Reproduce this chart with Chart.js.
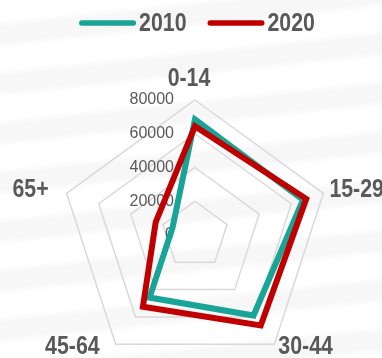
<!DOCTYPE html>
<html>
<head>
<meta charset="utf-8">
<script src="https://cdn.jsdelivr.net/npm/chart.js@4.4.1/dist/chart.umd.min.js"></script>
<style>
  html, body { margin: 0; padding: 0; }
  body {
    width: 382px; height: 358px; overflow: hidden;
    background: #fbfbfb repeating-linear-gradient(174deg, #ffffff 0px, #ffffff 20px, #f7f7f7 27px, #f7f7f7 42px, #ffffff 49px);
  }
  #wrap { position: relative; width: 382px; height: 358px; }
</style>
</head>
<body>
<div id="wrap"><canvas id="chart" width="382" height="358"></canvas></div>
<script>
// Population by age group
const categories = ['0-14', '15-29', '30-44', '45-64', '65+'];
const seriesNames = ['2010', '2020'];
const values2010 = [68500, 67300, 59000, 45800, 14000];
const values2020 = [64500, 69300, 66300, 52500, 24500];
const tickValues = [0, 20000, 40000, 60000, 80000];

const TEXT_COLOR = '#595959';
const BOLD_FONT = 'bold 26px "Liberation Sans", Arial, sans-serif';
const TICK_FONT = '16px "Liberation Sans", Arial, sans-serif';
const CONDENSE = 0.82;           // horizontal squeeze for the bold headings
const seriesColors = ['#18a497', '#c00000'];

// Draw condensed text anchored at (x, y)
function condensedText(ctx, text, x, y, align, baseline) {
  ctx.save();
  ctx.translate(x, y);
  ctx.scale(CONDENSE, 1);
  ctx.textAlign = align;
  ctx.textBaseline = baseline;
  ctx.fillText(text, 0, 0);
  ctx.restore();
}

const radarText = {
  id: 'radarText',
  // tick values to the left of the vertical axis, underneath the series lines
  beforeDatasetsDraw(chart) {
    const s = chart.scales.r;
    const ctx = chart.ctx;
    ctx.save();
    ctx.font = TICK_FONT;
    ctx.fillStyle = TEXT_COLOR;
    ctx.textAlign = 'right';
    ctx.textBaseline = 'middle';
    tickValues.forEach(v => {
      ctx.fillText(String(v), s.xCenter - 21, s.yCenter - s.getDistanceFromCenterForValue(v));
    });
    ctx.restore();
  },
  afterDatasetsDraw(chart) {
    const s = chart.scales.r;
    const ctx = chart.ctx;
    ctx.save();
    ctx.font = BOLD_FONT;
    ctx.fillStyle = TEXT_COLOR;

    // category names beside the outer vertices
    const shift = -6;
    chart.data.labels.forEach((label, i) => {
      const p = s.getPointPosition(i, s.drawingArea);
      const a = s.getIndexAngle(i);
      const sx = Math.sin(a), up = Math.cos(a);
      if (Math.abs(sx) < 0.1) {
        condensedText(ctx, label, p.x + shift, p.y - 14, 'center', 'alphabetic');
      } else if (up > 0) {
        condensedText(ctx, label, p.x + Math.sign(sx) * 12 + shift, p.y - 3.5,
          sx > 0 ? 'left' : 'right', 'middle');
      } else {
        condensedText(ctx, label, p.x + Math.sign(sx) * 10 + shift, p.y + 3,
          sx > 0 ? 'left' : 'right', 'middle');
      }
    });

    // legend row: thick line swatch followed by the series name
    const swatch = 57, gapText = 3, gapItem = 21, legendY = 23, centerX = 197;
    const items = chart.data.datasets.map(ds => ({
      text: ds.label, color: ds.borderColor,
      w: ctx.measureText(ds.label).width * CONDENSE
    }));
    const total = items.reduce((t, it) => t + swatch + gapText + it.w, 0) + gapItem * (items.length - 1);
    let x = centerX - total / 2;
    items.forEach(it => {
      ctx.strokeStyle = it.color;
      ctx.lineWidth = 5.4;
      ctx.lineCap = 'round';
      ctx.beginPath();
      ctx.moveTo(x + 2.7, legendY);
      ctx.lineTo(x + swatch - 2.7, legendY);
      ctx.stroke();
      condensedText(ctx, it.text, x + swatch + gapText, legendY + 1, 'left', 'middle');
      x += swatch + gapText + it.w + gapItem;
    });
    ctx.restore();
  }
};

new Chart(document.getElementById('chart'), {
  type: 'radar',
  data: {
    labels: categories,
    datasets: [
      {
        label: seriesNames[0], data: values2010,
        borderColor: seriesColors[0], backgroundColor: seriesColors[0],
        borderWidth: 6, borderJoinStyle: 'miter', fill: false,
        pointRadius: 0, pointHoverRadius: 0, order: 2
      },
      {
        label: seriesNames[1], data: values2020,
        borderColor: seriesColors[1], backgroundColor: seriesColors[1],
        borderWidth: 6, borderJoinStyle: 'miter', fill: false,
        pointRadius: 0, pointHoverRadius: 0, order: 1
      }
    ]
  },
  options: {
    responsive: false,
    devicePixelRatio: 1,
    animation: false,
    plugins: {
      tooltip: { enabled: false },
      legend: { display: false }
    },
    scales: {
      r: {
        min: 0,
        max: 80000,
        ticks: { stepSize: 20000, display: false },
        grid: { circular: false, color: '#d9d9d9', lineWidth: 1.5 },
        angleLines: { display: false },
        pointLabels: { display: false },
        afterFit(s) {
          s.xCenter = 195;
          s.yCenter = 235;
          s.drawingArea = 135;
        }
      }
    }
  },
  plugins: [radarText]
});
</script>
</body>
</html>
